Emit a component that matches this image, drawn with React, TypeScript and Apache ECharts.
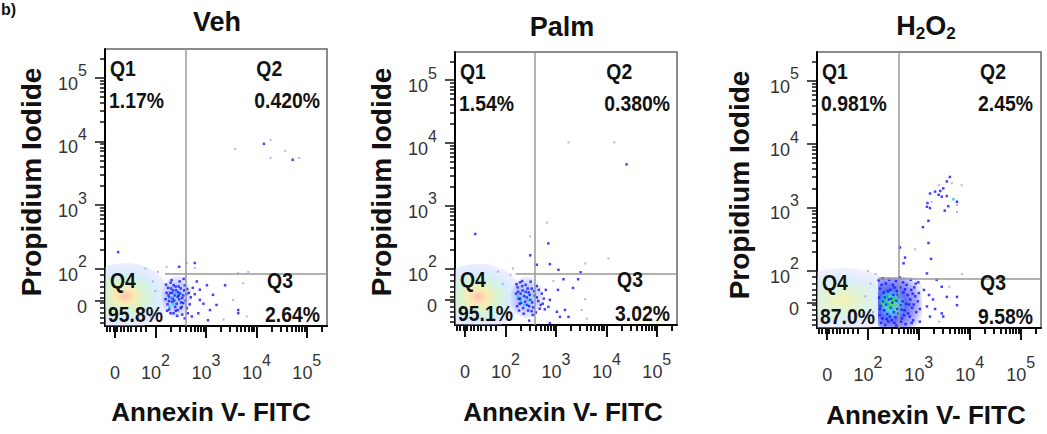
import React, { useEffect, useRef } from 'react';
import * as echarts from 'echarts';

// ---------------- DATA ----------------
// Display units: 2 = 10^2, 3 = 10^3, ... (biexponential-like display scale)
const PANEL_TITLES = ['Veh', 'Palm', 'H2O2'];
const X_AXIS_NAME = 'Annexin V- FITC';
const Y_AXIS_NAME = 'Propidium Iodide';
const QUAD_NAMES = ['Q1', 'Q2', 'Q3', 'Q4'];
const Q1_PCT = ['1.17%', '1.54%', '0.981%'];
const Q2_PCT = ['0.420%', '0.380%', '2.45%'];
const Q3_PCT = ['2.64%', '3.02%', '9.58%'];
const Q4_PCT = ['95.8%', '95.1%', '87.0%'];

const X_RANGE = [1.0, 5.4];
const Y_RANGE = [1.1, 5.45];
const X_LABEL_POS = [1.2, 2, 3, 4, 5];
const Y_LABEL_POS = [1.5, 2, 3, 4, 5];
const TICK_BASE = ['0', '10', '10', '10', '10'];
const TICK_EXP = ['', '2', '3', '4', '5'];
const X_LINEAR_TICKS = [1.03, 1.1, 1.17, 1.24, 1.31, 1.38, 1.45, 1.52, 1.6, 1.7, 1.8];
const Y_LINEAR_TICKS = [1.15, 1.23, 1.31, 1.39, 1.47, 1.55, 1.63, 1.71, 1.8, 1.9];

const X_GATE = [2.61, 2.59, 2.61];
const Y_GATE = [1.92, 1.91, 1.87];
const Y_GATE_START = [2.19, 2.2, 2.2];

const Q4_BLOB = [[1.4, 1.57], [1.46, 1.55], [1.5, 1.54]];
const CLUSTER_CENTER = [[2.42, 1.56], [2.42, 1.54], [2.63, 1.51]];

const VEH_DARK = [
  [2.22, 1.62], [2.25, 1.7], [2.28, 1.55], [2.3, 1.78], [2.33, 1.48], [2.35, 1.66], [2.38, 1.58], [2.4, 1.72],
  [2.42, 1.45], [2.45, 1.63], [2.47, 1.52], [2.5, 1.69], [2.52, 1.4], [2.55, 1.58], [2.58, 1.74], [2.6, 1.5],
  [2.24, 1.44], [2.27, 1.36], [2.36, 1.3], [2.44, 1.35], [2.53, 1.28], [2.62, 1.38], [2.66, 1.62], [2.7, 1.55],
  [2.74, 1.7], [2.68, 1.44], [2.32, 1.82], [2.48, 1.8], [2.56, 1.84], [2.21, 1.75], [2.39, 1.4], [2.29, 1.62],
  [2.46, 1.58], [2.34, 1.53], [2.51, 1.47], [2.43, 1.26], [2.58, 1.22], [2.64, 1.3],
  [2.26, 1.58], [2.31, 1.69], [2.37, 1.5], [2.41, 1.66], [2.44, 1.56], [2.49, 1.61], [2.53, 1.54], [2.57, 1.66],
  [2.36, 1.74], [2.27, 1.49], [2.33, 1.62], [2.46, 1.72], [2.55, 1.46], [2.61, 1.6], [2.4, 1.34], [2.3, 1.3],
  [2.5, 1.38], [2.63, 1.68], [2.2, 1.52], [2.23, 1.34],
  [2.82, 1.8], [2.88, 1.67], [3.02, 1.74], [3.38, 1.74], [3.14, 1.59], [2.88, 1.51], [3.21, 1.43], [3.08, 1.35],
  [2.85, 1.3], [3.64, 1.35], [3.64, 1.3], [3.04, 1.19], [2.78, 2.09], [2.47, 2.03], [1.26, 2.26], [4.15, 3.96],
  [4.72, 3.71], [2.95, 1.45], [2.78, 1.6], [2.72, 1.25],
];
const VEH_LIGHT = [
  [3.81, 1.25], [3.74, 1.77], [3.54, 1.51], [3.84, 1.95], [3.64, 1.93], [2.62, 2.09], [2.78, 2.01], [2.22, 2.03],
  [3.58, 3.88], [4.28, 4.02], [4.57, 3.85], [4.28, 3.74], [4.85, 3.74], [3.35, 1.2], [2.05, 1.95], [1.95, 1.8],
  [1.8, 2.0], [2.1, 1.3], [1.9, 1.25], [2.0, 1.65],
];
const VEH_CYAN = [[2.3, 1.55], [2.35, 1.45], [2.28, 1.4], [2.4, 1.62]];

const PALM_DARK = [
  [2.21, 1.6], [2.24, 1.7], [2.26, 1.52], [2.29, 1.78], [2.31, 1.45], [2.34, 1.65], [2.37, 1.56], [2.4, 1.74],
  [2.43, 1.42], [2.46, 1.62], [2.49, 1.5], [2.52, 1.68], [2.55, 1.38], [2.58, 1.57], [2.62, 1.72], [2.65, 1.48],
  [2.23, 1.4], [2.27, 1.33], [2.36, 1.28], [2.45, 1.33], [2.54, 1.26], [2.68, 1.36], [2.72, 1.6], [2.76, 1.52],
  [2.8, 1.66], [2.7, 1.42], [2.33, 1.8], [2.5, 1.79], [2.3, 1.6], [2.42, 1.54], [2.6, 1.3], [2.74, 1.44], [2.78, 1.35],
  [2.25, 1.63], [2.29, 1.52], [2.33, 1.72], [2.39, 1.47], [2.44, 1.68], [2.48, 1.58], [2.53, 1.46], [2.57, 1.64],
  [2.62, 1.54], [2.35, 1.37], [2.28, 1.44], [2.47, 1.4], [2.66, 1.66], [2.22, 1.75], [2.52, 1.32], [2.4, 1.63],
  [1.4, 2.55], [2.85, 2.4], [2.49, 2.21], [2.62, 2.06], [2.88, 2.07], [3.05, 1.98], [3.49, 1.94], [3.15, 1.83],
  [3.44, 1.83], [3.34, 1.69], [3.04, 1.66], [3.25, 1.23], [3.08, 1.23], [2.88, 1.13], [3.18, 1.34], [2.88, 1.5],
  [2.85, 1.39], [3.02, 1.31], [2.47, 1.17], [4.4, 3.66],
];
const PALM_LIGHT = [
  [2.82, 2.73], [2.49, 2.51], [3.58, 2.08], [4.04, 2.16], [3.58, 1.51], [3.51, 1.34], [3.61, 1.2], [3.25, 4.01],
  [4.16, 4.01], [2.1, 1.9], [1.95, 1.75], [2.05, 1.3], [2.15, 2.0], [1.85, 1.95], [2.95, 1.8],
];
const PALM_CYAN = [[2.25, 1.55], [2.3, 1.48], [2.38, 1.42], [2.45, 1.5]];

const H2O2_DARK = [
  [2.21, 1.85], [2.24, 1.72], [2.22, 1.58], [2.25, 1.45], [2.23, 1.3], [2.26, 1.18],
  [2.29, 1.88], [2.31, 1.66], [2.3, 1.52], [2.32, 1.38], [2.28, 1.25],
  [2.35, 1.8], [2.37, 1.6], [2.36, 1.47], [2.38, 1.32], [2.34, 1.15],
  [2.42, 1.86], [2.44, 1.7], [2.41, 1.55], [2.45, 1.42], [2.43, 1.28], [2.4, 1.2],
  [2.49, 1.78], [2.5, 1.62], [2.48, 1.5], [2.51, 1.35], [2.47, 1.22],
  [2.55, 1.84], [2.57, 1.68], [2.56, 1.53], [2.58, 1.4], [2.54, 1.27], [2.56, 1.14],
  [2.62, 1.9], [2.63, 1.74], [2.61, 1.58], [2.64, 1.46], [2.6, 1.33], [2.65, 1.2],
  [2.69, 1.82], [2.7, 1.66], [2.68, 1.52], [2.72, 1.38], [2.67, 1.25],
  [2.76, 1.78], [2.78, 1.62], [2.75, 1.48], [2.79, 1.33], [2.74, 1.16],
  [2.84, 1.86], [2.85, 1.7], [2.83, 1.55], [2.87, 1.42], [2.82, 1.28],
  [2.91, 1.74], [2.93, 1.6], [2.9, 1.47], [2.95, 1.35], [2.89, 1.22],
  [2.99, 1.82], [3.0, 1.65], [2.98, 1.52], [3.02, 1.4],
  [2.27, 1.78], [2.33, 1.58], [2.39, 1.68], [2.46, 1.56], [2.52, 1.74], [2.59, 1.62], [2.66, 1.39], [2.73, 1.71],
  [2.81, 1.47], [2.88, 1.64], [2.94, 1.8], [2.24, 1.4], [2.37, 1.24], [2.52, 1.18], [2.71, 1.3], [2.86, 1.18],
  [3.16, 1.96], [3.35, 1.86], [3.45, 1.75], [3.55, 1.59], [3.45, 1.33], [3.75, 1.59], [3.75, 1.46], [3.48, 1.28],
  [3.16, 1.44], [3.22, 1.28], [3.02, 1.2], [3.1, 1.7], [3.28, 1.55], [3.2, 1.62], [3.32, 1.4],
  [2.63, 2.37], [2.73, 2.21], [2.7, 2.12], [3.24, 2.19], [3.19, 2.44], [3.08, 2.69], [3.19, 2.79], [3.22, 2.99],
  [3.17, 3.07],
  [3.61, 3.48], [3.55, 3.41], [3.48, 3.3], [3.32, 3.25], [3.39, 3.2], [3.45, 3.17], [3.55, 3.18], [3.75, 3.09],
  [3.58, 3.02], [3.51, 2.95], [3.22, 3.22], [3.42, 3.26], [3.16, 3.01],
];
const H2O2_LIGHT = [
  [2.93, 2.34], [3.84, 3.35], [3.75, 3.04], [3.25, 3.09], [3.75, 2.93], [3.65, 3.38], [3.4, 3.35], [3.85, 1.95],
  [3.4, 1.2], [3.6, 1.75], [2.15, 1.95], [2.05, 1.8], [1.95, 1.6], [2.1, 1.35], [1.9, 1.3], [2.0, 2.0],
];
const H2O2_CYAN = [[3.68, 3.13], [2.3, 1.55], [2.4, 1.48], [2.35, 1.62], [2.48, 1.4], [2.52, 1.58], [2.6, 1.5], [2.45, 1.66]];
const H2O2_GREEN = [[2.36, 1.52], [2.42, 1.45], [2.38, 1.6], [2.5, 1.55], [2.28, 1.48]];

const DARK = [VEH_DARK, PALM_DARK, H2O2_DARK];
const LIGHT = [VEH_LIGHT, PALM_LIGHT, H2O2_LIGHT];
const CYAN = [VEH_CYAN, PALM_CYAN, H2O2_CYAN];
const GREEN = [[], [], H2O2_GREEN];

// ---------------- LAYOUT / STYLE ----------------
const FONT = '"Liberation Sans", Arial, Helvetica, sans-serif';
const LAYOUT = [
  { left: 105, top: 49, width: 222, height: 277, titleX: 217, titleY: 22, yNameX: 31, yNameY: 182, xNameX: 211, xNameY: 412, qRightPad: 7 },
  { left: 455, top: 52, width: 222, height: 273, titleX: 562, titleY: 27, yNameX: 381, yNameY: 182, xNameX: 563, xNameY: 412, qRightPad: 7 },
  { left: 817, top: 52, width: 224, height: 276, titleX: 926, titleY: 26, yNameX: 739, yNameY: 185, xNameX: 926, xNameY: 415, qRightPad: 8 },
];
const BLOB_RADII = [[44, 33], [44, 33], [56, 32]];
const CLUSTER_RADII = [[15, 21], [16, 21], [22, 25]];

function minorTicks(linear: number[]) {
  const out = [...linear];
  for (let d = 2; d <= 5; d++) {
    for (let k = 2; k <= 9; k++) {
      const v = d + Math.log10(k);
      if (v < 5.4) out.push(v);
    }
  }
  return out;
}

function tickLabel(positions: number[]) {
  return (v: number) => {
    let idx = 0;
    let best = Infinity;
    positions.forEach((p, i) => {
      if (Math.abs(p - v) < best) { best = Math.abs(p - v); idx = i; }
    });
    if (!TICK_EXP[idx]) return '{z|' + TICK_BASE[idx] + '}';
    return '{b|' + TICK_BASE[idx] + '}{s|' + TICK_EXP[idx] + '}';
  };
}

const TICK_RICH = {
  z: { fontSize: 18, color: '#333', fontFamily: FONT, padding: [12, 0, 0, 0] },
  b: { fontSize: 18, color: '#333', fontFamily: FONT, padding: [12, 0, 0, 0] },
  s: { fontSize: 16, color: '#333', fontFamily: FONT, verticalAlign: 'top' },
};

function textWidth(t: string, font: string) {
  const c = document.createElement('canvas').getContext('2d');
  if (!c) return t.length * 11;
  c.font = font;
  return c.measureText(t).width;
}

export default function App() {
  const ref = useRef<HTMLDivElement>(null);
  useEffect(() => {
    if (!ref.current) return;
    const chart = echarts.init(ref.current, undefined, { renderer: 'svg' });

    const grids: any[] = [];
    const xAxes: any[] = [];
    const yAxes: any[] = [];
    const series: any[] = [];
    const graphics: any[] = [];

    const blobGrad = (i: number) =>
      new echarts.graphic.RadialGradient(0.5, 0.5, 0.62, i === 2
        ? [
            { offset: 0, color: 'rgba(245,240,165,0.85)' },
            { offset: 0.3, color: 'rgba(210,240,200,0.7)' },
            { offset: 0.55, color: 'rgba(195,225,250,0.55)' },
            { offset: 0.8, color: 'rgba(212,212,255,0.35)' },
            { offset: 1, color: 'rgba(225,225,255,0)' },
          ]
        : [
            { offset: 0, color: 'rgba(255,180,160,0.85)' },
            { offset: 0.18, color: 'rgba(248,232,160,0.8)' },
            { offset: 0.38, color: 'rgba(195,240,195,0.7)' },
            { offset: 0.58, color: 'rgba(185,222,250,0.55)' },
            { offset: 0.8, color: 'rgba(208,208,255,0.38)' },
            { offset: 1, color: 'rgba(225,225,255,0)' },
          ]);
    const clusterGrad = (i: number) =>
      i === 2
        ? new echarts.graphic.RadialGradient(0.32, 0.55, 0.7, [
            { offset: 0, color: 'rgba(70,200,80,0.8)' },
            { offset: 0.22, color: 'rgba(0,185,225,0.65)' },
            { offset: 0.45, color: 'rgba(10,30,245,0.65)' },
            { offset: 0.8, color: 'rgba(25,25,255,0.35)' },
            { offset: 1, color: 'rgba(40,40,255,0.08)' },
          ])
        : new echarts.graphic.RadialGradient(0.5, 0.5, 0.6, [
            { offset: 0, color: 'rgba(0,120,255,0.4)' },
            { offset: 0.5, color: 'rgba(30,60,255,0.25)' },
            { offset: 1, color: 'rgba(80,80,255,0)' },
          ]);

    const shapeSeries = (i: number, center: number[], radii: number[], grad: any, z: number, asRect: boolean) => ({
      type: 'custom', xAxisIndex: i * 2, yAxisIndex: i * 2, silent: true, z, clip: true,
      data: [center],
      renderItem: (_p: any, api: any) => {
        const c = api.coord([api.value(0), api.value(1)]);
        if (asRect) {
          return {
            type: 'rect',
            shape: { x: c[0] - radii[0], y: c[1] - radii[1], width: radii[0] * 2, height: radii[1] * 2, r: [2, 10, 10, 2] },
            style: { fill: grad, stroke: null },
          };
        }
        return {
          type: 'ellipse',
          shape: { cx: c[0], cy: c[1], rx: radii[0], ry: radii[1] },
          style: { fill: grad, stroke: null },
        };
      },
    });

    const qFont = 'bold 22px ' + FONT;
    const qScale = 0.88;

    LAYOUT.forEach((L, i) => {
      grids.push({
        left: L.left, top: L.top, width: L.width, height: L.height,
        show: true, borderColor: '#666', borderWidth: 1.5, backgroundColor: '#fff',
        outerBoundsMode: 'none',
      });
      const baseX = { type: 'value', gridIndex: i, min: X_RANGE[0], max: X_RANGE[1], position: 'bottom', splitLine: { show: false } };
      xAxes.push({
        ...baseX,
        axisLine: { show: true, onZero: false, lineStyle: { color: '#000', width: 2 } },
        axisTick: { show: true, customValues: minorTicks(X_LINEAR_TICKS), length: 6, lineStyle: { color: '#111', width: 2 } },
        axisLabel: { show: false },
      });
      xAxes.push({
        ...baseX,
        axisLine: { show: false, onZero: false },
        axisTick: { show: true, customValues: X_LABEL_POS, length: 12, lineStyle: { color: '#111', width: 2 } },
        axisLabel: { show: true, customValues: X_LABEL_POS, margin: 26, formatter: tickLabel(X_LABEL_POS), rich: TICK_RICH },
      });
      const baseY = { type: 'value', gridIndex: i, min: Y_RANGE[0], max: Y_RANGE[1], position: 'left', splitLine: { show: false } };
      yAxes.push({
        ...baseY,
        axisLine: { show: true, onZero: false, lineStyle: { color: '#000', width: 2 } },
        axisTick: { show: true, customValues: minorTicks(Y_LINEAR_TICKS), length: 5, lineStyle: { color: '#111', width: 1.5 } },
        axisLabel: { show: false },
      });
      yAxes.push({
        ...baseY,
        axisLine: { show: false, onZero: false },
        axisTick: { show: true, customValues: Y_LABEL_POS, length: 10, lineStyle: { color: '#111', width: 1.5 } },
        axisLabel: { show: true, customValues: Y_LABEL_POS, margin: 18, formatter: tickLabel(Y_LABEL_POS), rich: TICK_RICH },
      });
      const xi = i * 2;
      const yi = i * 2;
      series.push(shapeSeries(i, Q4_BLOB[i], BLOB_RADII[i], blobGrad(i), 1, false));
      series.push(shapeSeries(i, CLUSTER_CENTER[i], CLUSTER_RADII[i], clusterGrad(i), 2, i === 2));
      series.push({
        type: 'scatter', xAxisIndex: xi, yAxisIndex: yi, silent: true, z: 3,
        data: LIGHT[i], symbol: 'rect', symbolSize: 2, itemStyle: { color: '#98a0ff' },
        markLine: {
          silent: true, symbol: ['none', 'none'], label: { show: false },
          lineStyle: { color: '#999', width: 1.5, type: 'solid' },
          data: [
            { xAxis: X_GATE[i] },
            [{ coord: [Y_GATE_START[i], Y_GATE[i]] }, { coord: [X_RANGE[1], Y_GATE[i]] }],
          ],
        },
      });
      series.push({
        type: 'scatter', xAxisIndex: xi, yAxisIndex: yi, silent: true, z: 4,
        data: DARK[i], symbol: 'rect', symbolSize: 2.5, itemStyle: { color: '#1414ff' },
      });
      series.push({
        type: 'scatter', xAxisIndex: xi, yAxisIndex: yi, silent: true, z: 5,
        data: CYAN[i], symbol: 'rect', symbolSize: 2.5, itemStyle: { color: '#00c8ff' },
      });
      if (GREEN[i].length) {
        series.push({
          type: 'scatter', xAxisIndex: xi, yAxisIndex: yi, silent: true, z: 6,
          data: GREEN[i], symbol: 'rect', symbolSize: 3, itemStyle: { color: '#30d050' },
        });
      }

      // Title
      const t = PANEL_TITLES[i];
      const titleRich = t.replace(/([A-Za-z]+)/g, '{a|$1}').replace(/(\d)/g, '{u|$1}');
      graphics.push({
        type: 'text', x: L.titleX, y: L.titleY, z: 100,
        style: {
          text: titleRich, align: 'center', verticalAlign: 'middle',
          rich: {
            a: { fontSize: 27, fontWeight: 'bold', fontFamily: FONT, fill: '#111', color: '#111' },
            u: { fontSize: 17, fontWeight: 'bold', fontFamily: FONT, fill: '#111', color: '#111', padding: [14, 0, 0, 0] },
          },
        },
      });
      // Axis names
      graphics.push({
        type: 'text', x: L.yNameX, y: L.yNameY, rotation: Math.PI / 2, z: 100,
        style: { text: Y_AXIS_NAME, align: 'center', verticalAlign: 'middle', font: 'bold 28px ' + FONT, fill: '#111' },
      });
      graphics.push({
        type: 'text', x: L.xNameX, y: L.xNameY, z: 100,
        style: { text: X_AXIS_NAME, align: 'center', verticalAlign: 'middle', font: 'bold 26px ' + FONT, fill: '#111' },
      });
      // Quadrant labels
      const right = L.left + L.width - L.qRightPad;
      const bottom = L.top + L.height;
      const w2 = textWidth(Q2_PCT[i], qFont) * qScale;
      const w3 = textWidth(Q3_PCT[i], qFont) * qScale;
      const q = (text: string, x: number, y: number) => ({
        type: 'text', x, y, z: 100, scaleX: qScale,
        style: { text, align: 'left', verticalAlign: 'top', font: qFont, fill: '#111' },
      });
      graphics.push(q(QUAD_NAMES[0], L.left + 5, L.top + 8));
      graphics.push(q(Q1_PCT[i], L.left + 4, L.top + 40));
      graphics.push(q(QUAD_NAMES[1], right - w2 + 2, L.top + 8));
      graphics.push(q(Q2_PCT[i], right - w2, L.top + 40));
      graphics.push(q(QUAD_NAMES[3], L.left + 5, bottom - 57));
      graphics.push(q(Q4_PCT[i], L.left + 3, bottom - 23));
      graphics.push(q(QUAD_NAMES[2], right - w3 + 2, bottom - 57));
      graphics.push(q(Q3_PCT[i], right - w3, bottom - 23));
    });

    graphics.push({
      type: 'text', x: 1, y: 1, z: 100,
      style: { text: 'b)', align: 'left', verticalAlign: 'top', font: 'bold 16px ' + FONT, fill: '#111' },
    });

    chart.setOption({
      animation: false,
      backgroundColor: '#fff',
      grid: grids,
      xAxis: xAxes,
      yAxis: yAxes,
      series,
      graphic: graphics,
    });
    return () => chart.dispose();
  }, []);
  return <div ref={ref} style={{ position: 'absolute', left: 0, top: 0, width: 1047, height: 434 }} />;
}
